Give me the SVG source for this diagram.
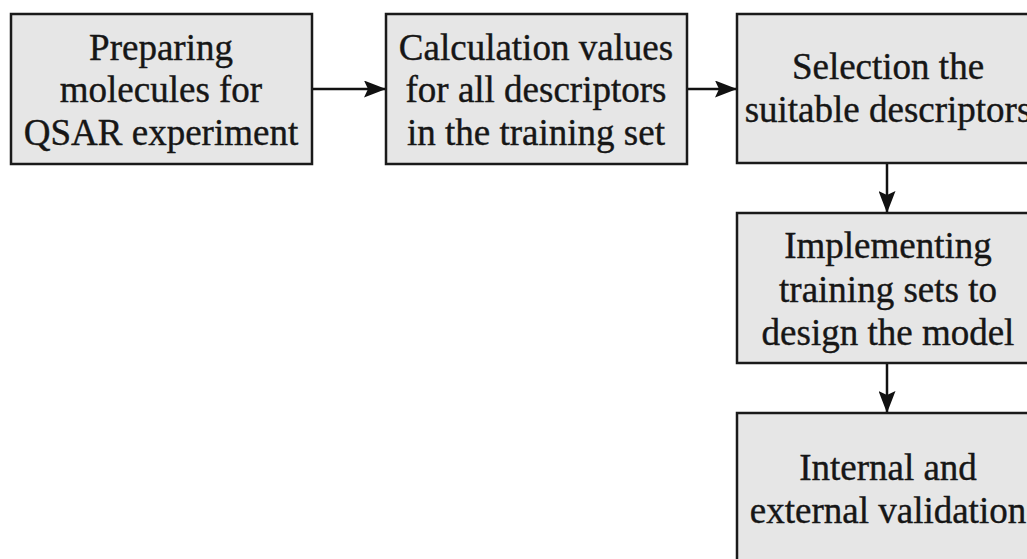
<svg xmlns="http://www.w3.org/2000/svg" width="1027" height="559" viewBox="0 0 1027 559">
<style>
.box{fill:#e6e6e6;stroke:#1a1a1a;stroke-width:2.5}
.t{font-family:"Liberation Serif","Times New Roman",serif;font-size:37px;fill:#161616;stroke:#161616;stroke-width:0.4;text-anchor:middle}
.c{stroke:#111;stroke-width:2.5;fill:none}
</style>
<defs>
<marker id="arr" viewBox="0 0 22 17" refX="22" refY="8.5" markerWidth="22" markerHeight="17" orient="auto" markerUnits="userSpaceOnUse">
<path d="M0,0 L22,8.5 L0,17 L4,8.5 Z" fill="#111"/>
</marker>
</defs>
<rect width="1027" height="559" fill="#ffffff"/>
<g id="connectors">
<line class="c" x1="312" y1="89" x2="386" y2="89" marker-end="url(#arr)"/>
<line class="c" x1="687" y1="89" x2="737" y2="89" marker-end="url(#arr)"/>
<line class="c" x1="887" y1="164" x2="887" y2="213" marker-end="url(#arr)"/>
<line class="c" x1="887" y1="363" x2="887" y2="413" marker-end="url(#arr)"/>
</g>
<g id="n1">
<rect class="box" x="11" y="14" width="301" height="150"/>
<text class="t" x="161" y="60">Preparing</text>
<text class="t" x="161" y="102">molecules for</text>
<text class="t" x="161" y="145">QSAR experiment</text>
</g>
<g id="n2">
<rect class="box" x="386" y="14" width="301" height="150"/>
<text class="t" x="536" y="60">Calculation values</text>
<text class="t" x="536" y="102">for all descriptors</text>
<text class="t" x="536" y="145">in the training set</text>
</g>
<g id="n3">
<rect class="box" x="737" y="14" width="302" height="149"/>
<text class="t" x="888" y="79">Selection the</text>
<text class="t" x="888" y="122">suitable descriptors</text>
</g>
<g id="n4">
<rect class="box" x="737" y="213" width="302" height="150"/>
<text class="t" x="888" y="258">Implementing</text>
<text class="t" x="888" y="302">training sets to</text>
<text class="t" x="888" y="345">design the model</text>
</g>
<g id="n5">
<rect class="box" x="737" y="413" width="302" height="160"/>
<text class="t" x="888" y="480">Internal and</text>
<text class="t" x="888" y="523">external validation</text>
</g>
</svg>
